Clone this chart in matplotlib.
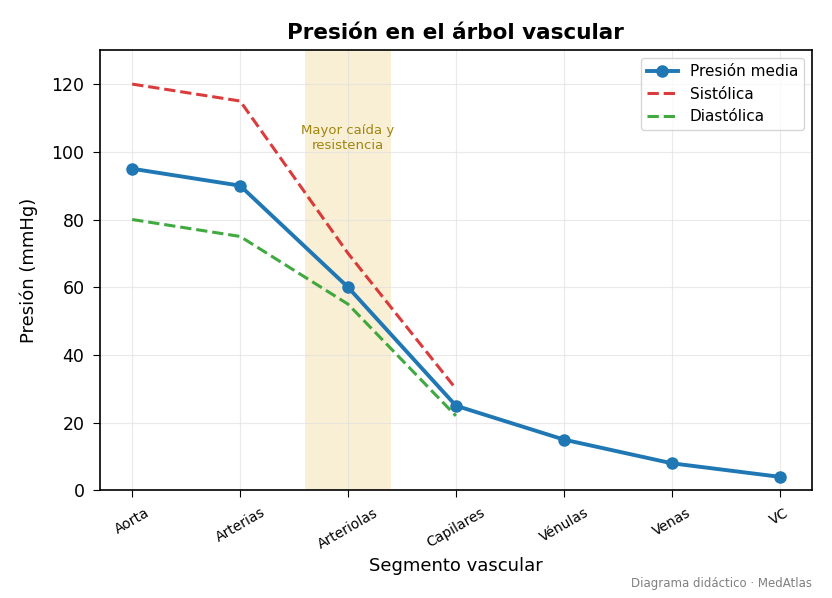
import matplotlib
matplotlib.use("Agg")
import matplotlib.pyplot as plt

# Data
segmentos = ["Aorta", "Arterias", "Arteriolas", "Capilares", "Vénulas", "Venas", "VC"]
presion_media = [95, 90, 60, 25, 15, 8, 4]
sistolica = [120, 115, 70, 30]
diastolica = [80, 75, 55, 22]

x = list(range(len(segmentos)))

fig, ax = plt.subplots(figsize=(8.32, 5.98), dpi=100)

# Resistance zone
ax.axvspan(1.6, 2.4, color="#e8c35a", alpha=0.25, lw=0)
ax.text(2, 104, "Mayor caída y\nresistencia", ha="center", va="center",
        fontsize=9.5, color="#a0850f")

ax.plot(x, presion_media, "-o", color="#1f77b4", lw=2.8, ms=8, label="Presión media")
ax.plot(x[:len(sistolica)], sistolica, "--", color="#d62728", lw=2.2, alpha=0.9,
        label="Sistólica")
ax.plot(x[:len(diastolica)], diastolica, "--", color="#2ca02c", lw=2.2, alpha=0.9,
        label="Diastólica")

ax.set_xlim(-0.3, 6.3)
ax.set_ylim(0, 130)
ax.set_xticks(x)
ax.set_xticklabels(segmentos, rotation=30, fontsize=10)
ax.tick_params(axis="y", labelsize=12.5, length=5, pad=6)
ax.tick_params(axis="x", length=5, pad=6)
ax.grid(True, color="#dddddd", alpha=0.6, lw=0.8)
for s in ax.spines.values():
    s.set_linewidth(1.2)

ax.set_title("Presión en el árbol vascular", fontsize=15.5, fontweight="bold", pad=8)
ax.set_xlabel("Segmento vascular", fontsize=13, labelpad=4)
ax.set_ylabel("Presión (mmHg)", fontsize=13, labelpad=10)
ax.legend(loc="upper right", fontsize=11)

fig.text(0.976, 0.013, "Diagrama didáctico · MedAtlas", ha="right", va="bottom",
         fontsize=8.5, color="gray")

fig.subplots_adjust(left=0.12, right=0.976, top=0.916, bottom=0.18)
fig.savefig("out.png", dpi=100)
